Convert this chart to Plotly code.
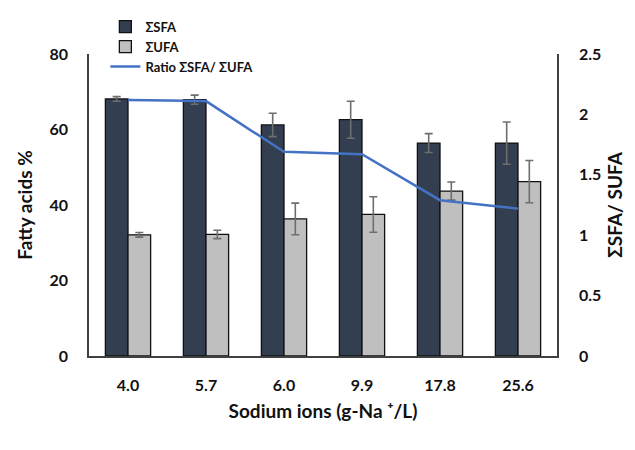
import plotly.graph_objects as go

# Sodium ion concentration (g-Na+/L) for each culture condition
sodium_levels = ["4.0", "5.7", "6.0", "9.9", "17.8", "25.6"]

# Total saturated fatty acids (%) and standard deviation
sfa = [68.1, 67.9, 61.2, 62.6, 56.4, 56.4]
sfa_sd = [0.6, 1.2, 3.1, 4.9, 2.5, 5.6]

# Total unsaturated fatty acids (%) and standard deviation
ufa = [32.1, 32.2, 36.3, 37.5, 43.7, 46.2]
ufa_sd = [0.6, 1.1, 4.2, 4.7, 2.4, 5.6]

# Ratio of saturated to unsaturated fatty acids
ratio = [2.12, 2.11, 1.69, 1.67, 1.29, 1.22]

FONT = "Lato"
AXIS_COLOR = "#404040"
TITLE_FONT = dict(size=19, weight="bold")

fig = go.Figure()

fig.add_trace(go.Bar(
    x=sodium_levels, y=sfa, name="ΣSFA",
    marker=dict(color="#333F50", line=dict(color="#111111", width=1.3)),
    error_y=dict(type="data", array=sfa_sd, color="#6E6E6E", thickness=1.6, width=4),
))
fig.add_trace(go.Bar(
    x=sodium_levels, y=ufa, name="ΣUFA",
    marker=dict(color="#BFBFBF", line=dict(color="#111111", width=1.3)),
    error_y=dict(type="data", array=ufa_sd, color="#6E6E6E", thickness=1.6, width=4),
))
fig.add_trace(go.Scatter(
    x=sodium_levels, y=ratio, name="Ratio ΣSFA/ ΣUFA", yaxis="y2",
    mode="lines", line=dict(color="#4472C4", width=2.5),
))

fig.update_layout(
    width=635, height=450,
    margin=dict(l=89, r=76, t=50, b=94),
    paper_bgcolor="white", plot_bgcolor="white",
    font=dict(family=FONT, size=16, color="#111111", weight="bold"),
    barmode="group", bargap=0.42, bargroupgap=0,
    showlegend=True,
    legend=dict(
        x=0.035, y=1.14, xanchor="left", yanchor="top",
        bgcolor="rgba(0,0,0,0)", font=dict(size=13, weight="bold"),
        tracegroupgap=0, itemwidth=30,
    ),
    xaxis=dict(
        type="category", showline=True, linecolor=AXIS_COLOR, linewidth=1.5,
        ticks="", showgrid=False, ticklabelstandoff=14,
        title=dict(text="Sodium ions (g-Na ⁺/L)", standoff=12, font=TITLE_FONT),
    ),
    yaxis=dict(
        range=[0, 80], dtick=20, showline=True, linecolor=AXIS_COLOR, linewidth=1.5,
        ticks="", showgrid=False, zeroline=False, ticklabelstandoff=16,
        title=dict(text="Fatty acids %", standoff=12, font=TITLE_FONT),
    ),
    yaxis2=dict(
        range=[0, 2.5], dtick=0.5, overlaying="y", side="right",
        showline=True, linecolor=AXIS_COLOR, linewidth=1.5,
        ticks="", showgrid=False, zeroline=False, ticklabelstandoff=17,
        title=dict(text="ΣSFA/ SUFA", standoff=8, font=TITLE_FONT),
    ),
)

fig.write_html("out.html")
